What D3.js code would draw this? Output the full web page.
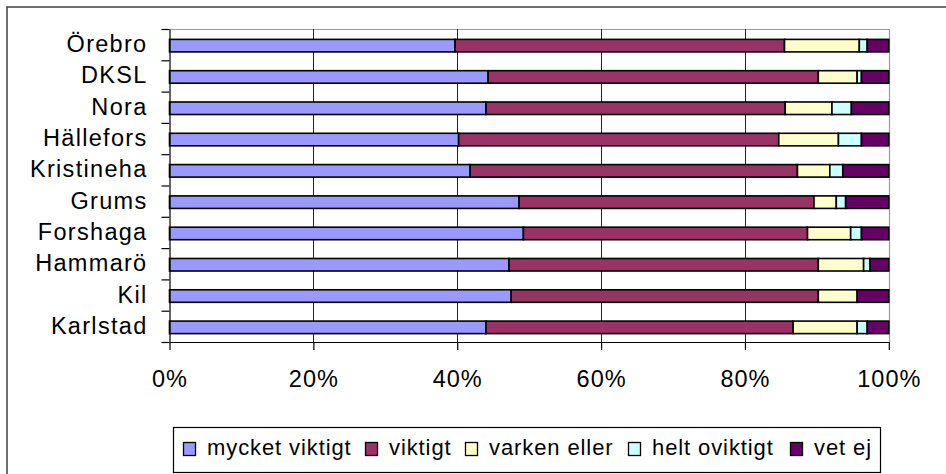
<!DOCTYPE html>
<html>
<head>
<meta charset="utf-8">
<script src="https://cdn.jsdelivr.net/npm/d3@7/dist/d3.min.js"></script>
<style>
  html, body { margin: 0; padding: 0; background: #fff; }
  svg { display: block; }
  text { font-family: "Liberation Sans", Arial, sans-serif; fill: #000; }
</style>
</head>
<body>
<svg id="chart" width="946" height="474"></svg>
<script>
// Municipalities, top to bottom
const categories = ["Örebro", "DKSL", "Nora", "Hällefors", "Kristineha", "Grums", "Forshaga", "Hammarö", "Kil", "Karlstad"];

// Answer shares (percent) per municipality, one array per answer
const mycketViktigt = [39.7, 44.3, 44.0, 40.2, 41.8, 48.6, 49.2, 47.2, 47.5, 44.0];
const viktigt       = [45.8, 45.9, 41.6, 44.5, 45.5, 41.0, 39.5, 43.0, 42.7, 42.7];
const varkenEller   = [10.4,  5.4,  6.5,  8.3,  4.5,  3.1,  6.0,  6.3,  5.4,  8.9];
const heltOviktigt  = [ 1.1,  0.6,  2.7,  3.2,  1.8,  1.3,  1.5,  0.9,  0.0,  1.4];
const vetEj         = [ 3.0,  3.8,  5.2,  3.8,  6.4,  6.0,  3.8,  2.6,  4.4,  3.0];

const seriesNames  = ["mycket viktigt", "viktigt", "varken eller", "helt oviktigt", "vet ej"];
const seriesValues = [mycketViktigt, viktigt, varkenEller, heltOviktigt, vetEj];
const seriesColors = ["#9999FF", "#993366", "#FFFFCC", "#CCFFFF", "#660066"];

const xTickValues = [0, 0.2, 0.4, 0.6, 0.8, 1.0];

// Rows for d3.stack
const rows = categories.map((c, i) => {
  const r = { category: c };
  seriesNames.forEach((s, k) => { r[s] = seriesValues[k][i]; });
  return r;
});

const stacked = d3.stack()
  .keys(seriesNames)
  .offset(d3.stackOffsetExpand)(rows);

const svg = d3.select("#chart");

const plot = { left: 169.5, right: 888.8, top: 29, bottom: 342 };

const x = d3.scaleLinear().domain([0, 1]).range([plot.left, plot.right]);
const y = d3.scaleBand().domain(categories).range([plot.top, plot.bottom]).padding(0);
const yIdx = d3.scaleLinear().domain([0, categories.length]).range([plot.top, plot.bottom]);

// Chart frame
svg.append("rect")
  .attr("x", 7).attr("y", 7)
  .attr("width", 1000).attr("height", 600)
  .attr("fill", "none")
  .attr("stroke", "#404040")
  .attr("stroke-width", 1.5);

// Plot-area border (top and right edges)
svg.append("path")
  .attr("d", `M${plot.left},${plot.top + 0.5}H${Math.round(plot.right) + 0.5}V${plot.bottom}`)
  .attr("fill", "none")
  .attr("stroke", "#9a9a9a")
  .attr("stroke-width", 1.2);

// Vertical gridlines
svg.append("g")
  .selectAll("line")
  .data(xTickValues.slice(1, -1))
  .join("line")
  .attr("x1", d => Math.round(x(d)) + 0.5)
  .attr("x2", d => Math.round(x(d)) + 0.5)
  .attr("y1", plot.top)
  .attr("y2", plot.bottom)
  .attr("stroke", "#222")
  .attr("stroke-width", 1);

// Stacked bars
const barH = y.bandwidth() * 0.4;
const barShift = 1;

svg.append("g")
  .selectAll("g")
  .data(stacked)
  .join("g")
  .attr("fill", (d, i) => seriesColors[i])
  .selectAll("rect")
  .data(d => d.filter(p => p[1] - p[0] > 0))
  .join("rect")
  .attr("x", d => x(d[0]))
  .attr("width", d => x(d[1]) - x(d[0]))
  .attr("y", d => y(d.data.category) + y.bandwidth() / 2 - barH / 2 + barShift)
  .attr("height", barH)
  .attr("stroke", "#000")
  .attr("stroke-width", 1.6);

// Y axis: line and boundary ticks
svg.append("g")
  .attr("transform", `translate(${plot.left},0)`)
  .call(d3.axisLeft(yIdx).tickValues(d3.range(0, categories.length + 1)).tickFormat("").tickSize(8).tickSizeOuter(0))
  .call(g => g.selectAll("line, path").attr("stroke", "#000").attr("stroke-width", 1.2));

// Y axis: category labels
svg.append("g")
  .attr("transform", `translate(${plot.left},0)`)
  .call(d3.axisLeft(y).tickSize(0).tickPadding(22))
  .call(g => g.select(".domain").remove())
  .call(g => g.selectAll("text")
    .attr("font-family", "'Liberation Sans', Arial, sans-serif")
    .attr("font-size", 23.5)
    .attr("letter-spacing", "1.3px")
    .attr("fill", "#000"));

// X axis
svg.append("g")
  .attr("transform", `translate(0,${plot.bottom})`)
  .call(d3.axisBottom(x).tickValues(xTickValues).tickFormat(d3.format(".0%")).tickSize(8).tickSizeOuter(0).tickPadding(20.5))
  .call(g => g.selectAll("line, path").attr("stroke", "#000").attr("stroke-width", 1.2))
  .call(g => g.selectAll("text")
    .attr("font-family", "'Liberation Sans', Arial, sans-serif")
    .attr("font-size", 23.5)
    .attr("letter-spacing", "1px")
    .attr("fill", "#000"));

// Legend
const legend = svg.append("g");
legend.append("rect")
  .attr("x", 173.5).attr("y", 427.5)
  .attr("width", 707).attr("height", 45)
  .attr("fill", "#fff")
  .attr("stroke", "#000")
  .attr("stroke-width", 1.2);

const legendX = [183, 365, 465, 628, 790];
const item = legend.selectAll("g.item")
  .data(seriesNames)
  .join("g")
  .attr("class", "item")
  .attr("transform", (d, i) => `translate(${legendX[i]},0)`);

item.append("rect")
  .attr("x", 0.5).attr("y", 442.5)
  .attr("width", 12).attr("height", 13)
  .attr("fill", (d, i) => seriesColors[i])
  .attr("stroke", "#000")
  .attr("stroke-width", 1.3);

item.append("text")
  .attr("x", 24)
  .attr("y", 455)
  .attr("font-size", 22)
  .attr("letter-spacing", "0.9px")
  .text(d => d);
</script>
</body>
</html>
